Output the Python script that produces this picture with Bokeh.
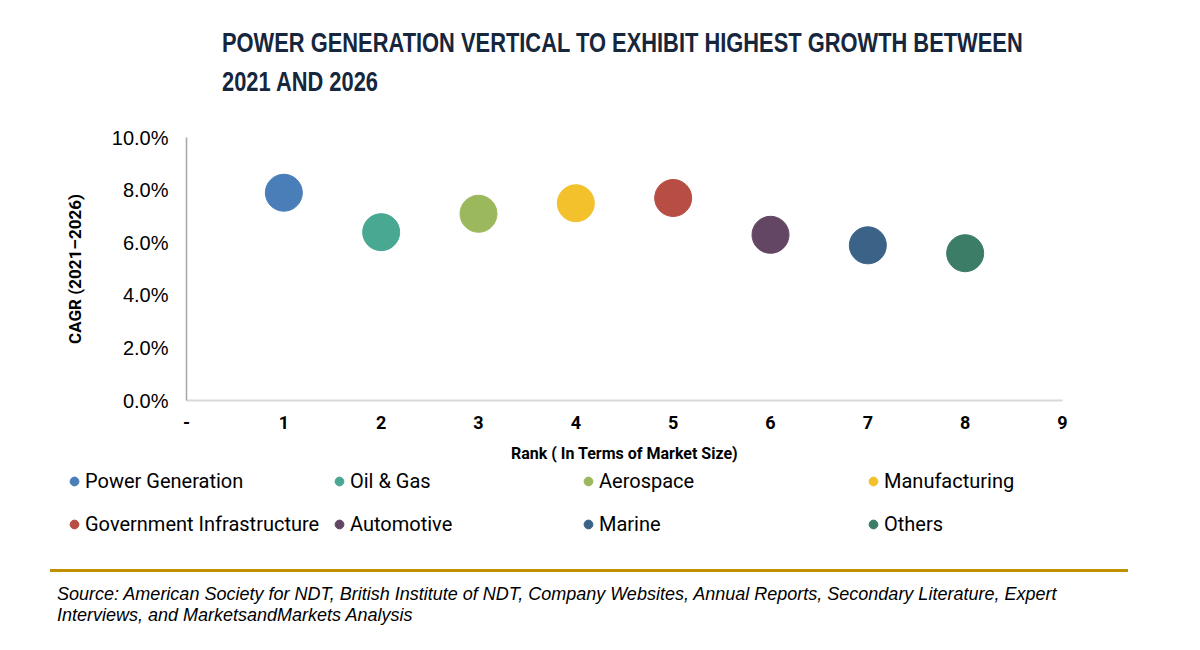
from bokeh.plotting import figure
from bokeh.models import (ColumnDataSource, Range1d, FixedTicker, NumeralTickFormatter,
                          Legend, LegendItem, Div)
from bokeh.embed import file_html
from bokeh.resources import INLINE

# ---------------- data ----------------
categories = ["Power Generation", "Oil & Gas", "Aerospace", "Manufacturing",
              "Government Infrastructure", "Automotive", "Marine", "Others"]
ranks = [1, 2, 3, 4, 5, 6, 7, 8]
cagr = [0.079, 0.064, 0.071, 0.075, 0.077, 0.063, 0.059, 0.056]
colors = ["#4A7EB8", "#48A892", "#9BB85C", "#F2C12C",
          "#B84D43", "#634664", "#3B6388", "#3B7D67"]
x_ticks = [0, 1, 2, 3, 4, 5, 6, 7, 8, 9]
x_tick_labels = ["-", "1", "2", "3", "4", "5", "6", "7", "8", "9"]
y_ticks = [0.0, 0.02, 0.04, 0.06, 0.08, 0.10]
title_lines = ["POWER GENERATION VERTICAL TO EXHIBIT HIGHEST GROWTH BETWEEN",
               "2021 AND 2026"]
source_lines = ["Source: American Society for NDT, British Institute of NDT, Company Websites, "
                "Annual Reports, Secondary Literature, Expert",
                "Interviews, and MarketsandMarkets Analysis"]
x_label = "Rank ( In Terms of Market Size)"
y_label = "CAGR (2021\u20132026)"
legend_columns = [[0, 4], [1, 5], [2, 6], [3, 7]]

W = 1200
TITLE_H = 100
FL, FR, FT, FB = 186, 1062, 137, 400   # frame edges in page pixels
MAIN_BOTTOM = 465
LEG_BOTTOM = 545
H = 650

# ---------------- title ----------------
title_html = '<div style="position:relative;width:%dpx;height:%dpx;">' % (W, TITLE_H)
for txt, top in zip(title_lines, [30, 69]):
    title_html += ('<div style="position:absolute;left:222px;top:%dpx;white-space:nowrap;'
                   'font-family:\'Liberation Sans\';font-weight:bold;font-size:27px;'
                   'line-height:27px;color:#16263D;transform:scaleX(0.81);'
                   'transform-origin:0 0;">%s</div>') % (top, txt)
title_html += '</div>'
title_div = Div(text=title_html, width=W, height=TITLE_H, margin=(0, 0, 0, 0))

# ---------------- main chart ----------------
p = figure(width=W, height=MAIN_BOTTOM - TITLE_H, output_backend="svg", toolbar_location=None,
           x_range=Range1d(0, 9), y_range=Range1d(0, 0.10),
           min_border_left=FL, min_border_right=W - FR,
           min_border_top=FT - TITLE_H, min_border_bottom=MAIN_BOTTOM - FB,
           margin=(0, 0, 0, 0))
p.outline_line_color = None
p.xgrid.visible = False
p.ygrid.visible = False

src = ColumnDataSource(dict(x=ranks, y=cagr, color=colors, name=categories))
p.scatter("x", "y", source=src, size=37, fill_color="color", line_color="color", line_width=1)

p.xaxis.ticker = FixedTicker(ticks=x_ticks)
p.xaxis.major_label_overrides = {t: l for t, l in zip(x_ticks, x_tick_labels)}
p.yaxis.ticker = FixedTicker(ticks=y_ticks)
p.yaxis.formatter = NumeralTickFormatter(format="0.0%")
for ax in (p.xaxis, p.yaxis):
    ax.major_tick_out = 0
    ax.major_tick_in = 0
    ax.minor_tick_out = 0
    ax.minor_tick_in = 0
    ax.major_label_text_color = "#000000"
    ax.axis_label_text_color = "#000000"
    ax.axis_label_text_font = "Roboto"
    ax.axis_label_text_font_style = "bold"
p.xaxis.axis_line_color = "#D9D9D9"
p.xaxis.axis_line_width = 2
p.yaxis.axis_line_color = "#A6A6A6"
p.yaxis.axis_line_width = 1.5
p.xaxis.major_label_text_font = "Roboto"
p.xaxis.major_label_text_font_style = "bold"
p.xaxis.major_label_text_font_size = "18px"
p.xaxis.major_label_standoff = 15
p.yaxis.major_label_text_font = "Liberation Sans"
p.yaxis.major_label_text_font_size = "20px"
p.yaxis.major_label_standoff = 18
p.xaxis.axis_label = x_label
p.xaxis.axis_label_text_font_size = "16px"
p.xaxis.axis_label_standoff = 12
p.yaxis.axis_label = y_label
p.yaxis.axis_label_text_font_size = "17px"
p.yaxis.axis_label_standoff = 24

# ---------------- legend strip ----------------
lf = figure(width=W, height=LEG_BOTTOM - MAIN_BOTTOM, output_backend="svg",
            toolbar_location=None, x_range=Range1d(100, 101), y_range=Range1d(0, 1),
            x_axis_location=None, y_axis_location=None,
            min_border=0, min_border_left=0, min_border_right=0,
            min_border_top=0, min_border_bottom=0, margin=(0, 0, 0, 0))
lf.outline_line_color = None
lf.xgrid.visible = False
lf.ygrid.visible = False
lr = lf.scatter("x", "y", source=src, size=37, fill_color="color", line_color="color")

legend_x = [75, 340, 589, 874]
GW = 22
for col, cx in zip(legend_columns, legend_x):
    items = [LegendItem(label=categories[i], renderers=[lr], index=i) for i in col]
    lg = Legend(items=items, location=(cx - GW / 2 - 1, LEG_BOTTOM - 536),
                orientation="vertical", border_line_color=None,
                background_fill_alpha=0, padding=0, margin=0, spacing=19,
                glyph_width=GW, glyph_height=GW, label_height=20, label_standoff=0,
                label_text_font="Roboto", label_text_font_size="20px",
                label_text_color="#000000")
    lf.add_layout(lg, "center")

# ---------------- source note ----------------
SRC_H = H - LEG_BOTTOM
src_html = ('<div style="position:relative;width:%dpx;height:%dpx;">'
            '<div style="position:absolute;left:50px;top:24px;width:1078px;height:3px;'
            'background:#BF9000;"></div>'
            '<div style="position:absolute;left:57px;top:39px;white-space:nowrap;'
            'font-family:\'Liberation Sans\';font-style:italic;font-size:18px;'
            'line-height:21px;color:#000000;">%s<br>%s</div></div>') % (
    W, SRC_H, source_lines[0], source_lines[1])
source_div = Div(text=src_html, width=W, height=SRC_H, margin=(0, 0, 0, 0))

open("out.html", "w").write(file_html([title_div, p, lf, source_div], INLINE))
